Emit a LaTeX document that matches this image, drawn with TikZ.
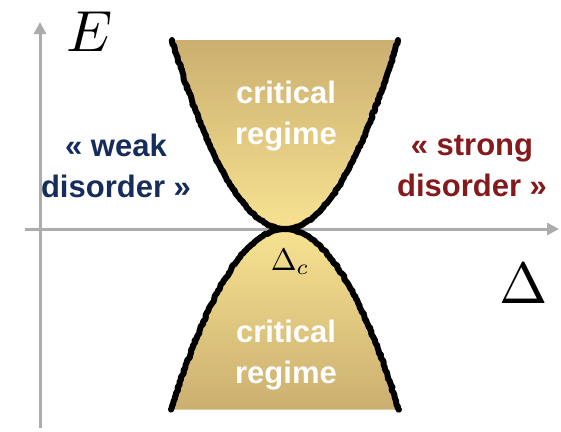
\documentclass[tikz,border=0pt]{standalone}
\usepackage{fontspec}
\setsansfont{Liberation Sans}
\usetikzlibrary{arrows.meta,decorations.pathmorphing}
\definecolor{axisgray}{RGB}{172,172,172}
\definecolor{tandark}{RGB}{203,175,112}
\definecolor{tanlight}{RGB}{247,226,145}
\definecolor{weakblue}{RGB}{22,44,90}
\definecolor{strongred}{RGB}{132,26,28}
\tikzset{
  axis/.style={draw=axisgray, line width=3pt, -{Triangle[length=12pt,width=12pt]}},
  edge/.style={draw=black, line width=6pt, line cap=round, line join=round,
    decorate, decoration={random steps, segment length=2pt, amplitude=0.9pt}},
  regime/.style={font=\sffamily\bfseries\fontsize{31}{41}\selectfont, text=white, align=center},
  phase/.style={font=\sffamily\bfseries\fontsize{31}{41}\selectfont, align=center},
}
\begin{document}
\begin{tikzpicture}[x=1pt,y=-1pt]
\useasboundingbox (0,0) rectangle (561,431);
% shaded regimes
\shade[top color=tandark, bottom color=tanlight]
  plot[domain=-113:113, samples=80] ({285+\x},{229-0.0148*\x*\x}) -- cycle;
\shade[top color=tanlight, bottom color=tandark]
  plot[domain=-114:114, samples=80] ({285+\x},{229+0.0139*\x*\x}) -- cycle;
% axes
\coordinate (vstart) at (40,428);
\coordinate (vend) at (40,22);
\coordinate (hstart) at (25,229);
\coordinate (hend) at (559,229);
\draw[axis] (vstart) -- (vend);
\draw[axis] (hstart) -- (hend);
% boundaries
\draw[edge] plot[domain=-113:113, samples=80] ({285+\x},{229-0.0148*\x*\x});
\draw[edge] plot[domain=-114:114, samples=80] ({285+\x},{229+0.0139*\x*\x});
% labels
\node[regime] (crit1) at (286,116) {critical\\regime};
\node[regime] (crit2) at (286,355) {critical\\regime};
\node[phase, text=weakblue] (weak) at (116,166) {« weak\\disorder »};
\node[phase, text=strongred] (strong) at (472,166) {« strong\\disorder »};
\node (E) at (90,32) {\scalebox{5.8}{$E$}};
\node (D) at (524,284) {\scalebox{5.8}{$\Delta$}};
\node (Dc) at (290,262) {\scalebox{3.1}{$\Delta_c$}};
\end{tikzpicture}
\end{document}
